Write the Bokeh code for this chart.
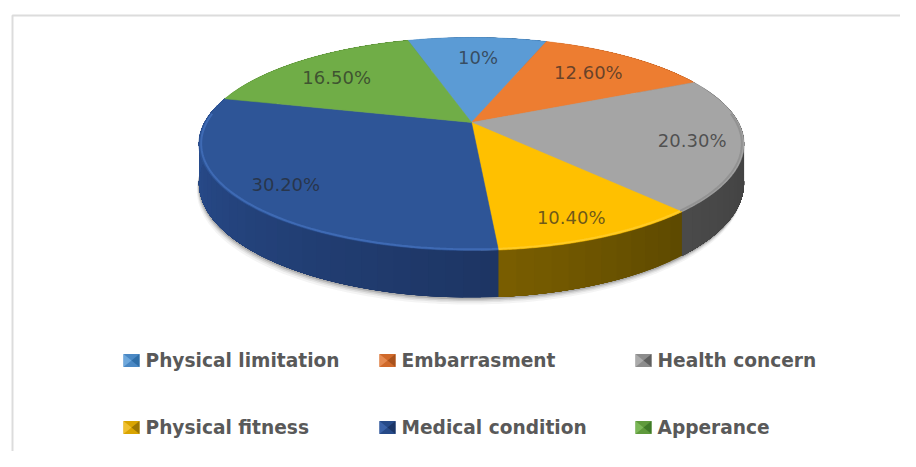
import numpy as np
from bokeh.plotting import figure
from bokeh.models import Range1d
from bokeh.core.properties import value
from bokeh.embed import file_html
from bokeh.resources import INLINE

categories = ["Physical limitation", "Embarrasment", "Health concern",
              "Physical fitness", "Medical condition", "Apperance"]
values = [10, 12.6, 20.3, 10.4, 30.2, 16.5]
labels = ["10%", "12.60%", "20.30%", "10.40%", "30.20%", "16.50%"]
colors = ["#5b9bd5", "#ed7d31", "#a5a5a5", "#ffc000", "#2e5597", "#70ad47"]
rim_colors = ["#6ea8dc", "#f08a45", "#858585", "#ffd23c", "#4a78c8", "#82bb58"]
wall_start = ["#3c6c99", "#a85520", "#3a3a3a", "#5d4900", "#1d3563", "#4d7a30"]
wall_end = ["#3c6c99", "#a85520", "#4a4a4a", "#7a5e00", "#2b5196", "#4d7a30"]
marker_base = ["#4a88c4", "#d0692a", "#8c8c8c", "#d9a400", "#264a88", "#5f9a3c"]
marker_dark = ["#2f6ea8", "#a9521c", "#5f5f5f", "#9c7600", "#1b3566", "#3f7a28"]
marker_light = ["#6ea8dc", "#e58a50", "#ababab", "#f0c030", "#3a62a8", "#7cb858"]
label_radius = [0.75, 0.75, 0.83, 0.85, 0.83, 0.75]
label_dx = [2, -4, -4, -7, 4, -4]
label_dy = [2, 1, 1, 0, 1, 3]
START_DEG = -16.5

# pie geometry, in picture pixels, with a simple perspective projection
CX, CY, A, B, K, H = 471.0, 122.0, 267.0, 102.2, 0.2019, 37.5


def proj(deg, r=1.0, drop=0.0):
    t = np.radians(deg)
    X, Y = r * np.sin(t), r * np.cos(t)
    d = 1 + K * Y
    return CX + A * X / d, CY - B * Y / d + drop * H / d


def hex2rgb(c):
    return np.array([int(c[i:i + 2], 16) for i in (1, 3, 5)], dtype=float)


def mix(c1, c2, f):
    v = hex2rgb(c1) * (1 - f) + hex2rgb(c2) * f
    return "#%02x%02x%02x" % tuple(int(round(a)) for a in v)


p = figure(width=900, height=451, output_backend="svg", toolbar_location=None,
           x_range=Range1d(0, 900), y_range=Range1d(451, 0), min_border=0,
           background_fill_color="white", border_fill_color="white")
p.axis.visible = False
p.xgrid.visible = False
p.ygrid.visible = False
p.outline_line_color = None

# chart frame: only top and left edges show in the crop
p.line([12, 12, 900], [451, 15, 15], line_color="#dcdcdc", line_width=2)

edges = START_DEG + np.concatenate([[0], np.cumsum(values)]) * 3.6

# soft shadow under the disc
ring = np.linspace(0, 360, 361)
for off, alpha in [(7, 0.05), (5, 0.08), (3.5, 0.12), (2, 0.2)]:
    sx, sy = proj(ring, 1.0, 1.0)
    p.patch(sx - off * 0.3, sy + off, fill_color="#303030", fill_alpha=alpha, line_color=None)

# side wall: strips run from each step to the slice's end so the seams stay hidden
for i in range(6):
    a0, a1 = edges[i], edges[i + 1]
    n = max(2, int((a1 - a0) / 3))
    steps = np.linspace(a0, a1, n + 1)
    for j in range(n):
        seg = np.linspace(steps[j], a1, 2 * (n - j) + 2)
        tx, ty = proj(seg)
        bx, by = proj(seg[::-1], 1.0, 1.0)
        c = mix(wall_start[i], wall_end[i], (j + 0.5) / n)
        p.patch(np.concatenate([tx, bx]), np.concatenate([ty, by]),
                fill_color=c, line_color=None)

# top faces
for i in range(6):
    arc = np.linspace(edges[i], edges[i + 1], 90)
    ax, ay = proj(arc)
    p.patch(np.concatenate([[CX], ax]), np.concatenate([[CY], ay]),
            fill_color=colors[i], line_color=colors[i], line_width=0.5)

# bevel along the front of the disc's rim only
for i in range(6):
    a0 = max(edges[i], 85.0)
    a1 = min(edges[i + 1], 275.0)
    if a1 <= a0:
        continue
    arc = np.linspace(a0, a1, 90)
    ax, ay = proj(arc, 0.992)
    p.line(ax, ay, line_color=rim_colors[i], line_width=2, line_alpha=0.6)

# slice labels
mids = (edges[:-1] + edges[1:]) / 2
lx = [proj(m, r)[0] + d for m, r, d in zip(mids, label_radius, label_dx)]
ly = [proj(m, r)[1] + d for m, r, d in zip(mids, label_radius, label_dy)]
p.text(lx, ly, text=labels, text_align="center", text_baseline="middle",
       text_font=value("DejaVu Sans"), text_font_size="18px",
       text_color="#262626", text_alpha=0.68)

# legend
leg_x = [123, 379, 635]
leg_y = [360, 427]
S = 8
for i, name in enumerate(categories):
    x0 = leg_x[i % 3]
    y0 = leg_y[i // 3]
    cx, cy = x0 + S, y0
    l, r, t, b = cx - S, cx + S, cy - 6.5, cy + 6.5
    p.patch([l, r, r, l], [t, t, b, b], fill_color=marker_base[i], line_color=None)
    p.patch([l, l, cx], [t, b, cy], fill_color=marker_light[i], line_color=None)
    p.patch([r, r, cx], [t, b, cy], fill_color=marker_dark[i], line_color=None)
    p.text([x0 + 22], [y0], text=[name], text_align="left", text_baseline="middle",
           text_font=value("DejaVu Sans"), text_font_style="bold",
           text_font_size="18.6px", text_color="#595959")

open("out.html", "w").write(file_html(p, INLINE))
